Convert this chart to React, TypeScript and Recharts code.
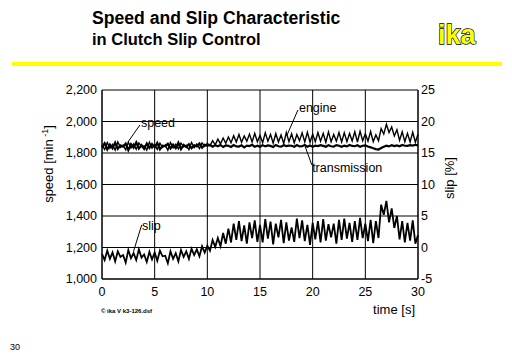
import React from "react";
import {
  ComposedChart,
  Line,
  XAxis,
  YAxis,
  CartesianGrid,
  ReferenceLine,
  ReferenceDot,
} from "recharts";

// time [s], 0.25 s steps
const time: number[] = [
  0, 0.25, 0.5, 0.75, 1, 1.25, 1.5, 1.75, 2, 2.25, 2.5, 2.75, 3, 3.25, 3.5, 3.75,
  4, 4.25, 4.5, 4.75, 5, 5.25, 5.5, 5.75, 6, 6.25, 6.5, 6.75, 7, 7.25, 7.5, 7.75,
  8, 8.25, 8.5, 8.75, 9, 9.25, 9.5, 9.75, 10, 10.25, 10.5, 10.75, 11, 11.25, 11.5, 11.75,
  12, 12.25, 12.5, 12.75, 13, 13.25, 13.5, 13.75, 14, 14.25, 14.5, 14.75, 15, 15.25, 15.5, 15.75,
  16, 16.25, 16.5, 16.75, 17, 17.25, 17.5, 17.75, 18, 18.25, 18.5, 18.75, 19, 19.25, 19.5, 19.75,
  20, 20.25, 20.5, 20.75, 21, 21.25, 21.5, 21.75, 22, 22.25, 22.5, 22.75, 23, 23.25, 23.5, 23.75,
  24, 24.25, 24.5, 24.75, 25, 25.25, 25.5, 25.75, 26, 26.25, 26.5, 26.75, 27, 27.25, 27.5, 27.75,
  28, 28.25, 28.5, 28.75, 29, 29.25, 29.5, 29.75, 30,
];

// engine speed [min-1]
const engine: number[] = [
  1848, 1822, 1866, 1830, 1855, 1818, 1870, 1836, 1850, 1820, 1868, 1832, 1858, 1824, 1864, 1840,
  1846, 1819, 1869, 1831, 1853, 1823, 1862, 1835, 1851, 1818, 1866, 1833, 1856, 1826, 1863, 1839,
  1849, 1821, 1867, 1834, 1857, 1829, 1864, 1842, 1862, 1845, 1878, 1852, 1888, 1858, 1895, 1862,
  1902, 1865, 1910, 1870, 1918, 1868, 1908, 1875, 1920, 1870, 1925, 1872, 1912, 1866, 1928, 1875,
  1918, 1862, 1924, 1870, 1915, 1860, 1930, 1872, 1922, 1865, 1918, 1878, 1928, 1870, 1932, 1868,
  1920, 1872, 1930, 1875, 1925, 1868, 1934, 1872, 1918, 1875, 1930, 1870, 1928, 1872, 1924, 1876,
  1935, 1870, 1938, 1878, 1922, 1875, 1936, 1872, 1915, 1878, 1955, 1920, 1982, 1930, 1965, 1908,
  1948, 1880, 1935, 1872, 1925, 1870, 1932, 1868, 1920,
];

// transmission speed [min-1]
const transmission: number[] = [
  1836, 1862, 1822, 1854, 1830, 1866, 1826, 1848, 1840, 1860, 1818, 1856, 1834, 1868, 1828, 1850,
  1826, 1860, 1832, 1857, 1836, 1864, 1824, 1846, 1842, 1858, 1829, 1853, 1831, 1865, 1825, 1851,
  1838, 1856, 1830, 1849, 1842, 1860, 1834, 1852, 1845, 1852, 1840, 1849, 1843, 1851, 1838, 1848,
  1846, 1838, 1850, 1842, 1841, 1849, 1836, 1847, 1844, 1852, 1839, 1846, 1840, 1850, 1842, 1848,
  1845, 1838, 1851, 1843, 1840, 1849, 1844, 1847, 1846, 1839, 1850, 1842, 1843, 1851, 1840, 1848,
  1839, 1847, 1844, 1850, 1845, 1840, 1849, 1843, 1841, 1850, 1846, 1839, 1847, 1842, 1851, 1845,
  1843, 1849, 1840, 1846, 1848, 1841, 1836, 1830, 1825, 1822, 1832, 1840, 1846, 1842, 1850, 1844,
  1848, 1843, 1851, 1846, 1845, 1850, 1847, 1852, 1848,
];

// slip [%]
const slip: number[] = [
  -1.0, -2.0, -0.5, -1.8, -0.8, -2.2, -0.6, -1.5, -1.2, -2.4, -0.4, -1.7, -0.9, -2.0, -0.3, -1.6,
  -1.1, -2.3, -0.7, -1.9, -0.8, -2.1, -0.5, -1.4, -1.3, -2.5, -0.6, -1.8, -0.9, -2.2, -0.4, -1.5,
  -0.6, -1.8, -0.2, -1.2, -0.3, -1.4, 0.2, -0.8, 0.3, -0.5, 1.2, 0.1, 1.5, 0.2, 2.3, 0.6,
  3.0, 0.8, 3.8, 1.2, 4.2, 1.0, 3.5, 0.6, 4.0, 1.5, 4.3, 0.9, 3.6, 0.8, 4.5, 1.4,
  4.1, 0.5, 3.8, 1.6, 4.4, 0.7, 4.0, 1.1, 3.2, 0.9, 4.6, 1.5, 4.3, 1.0, 3.6, 0.4,
  3.9, 1.3, 4.2, 0.8, 4.5, 1.1, 3.7, 1.6, 3.8, 0.6, 4.4, 1.2, 4.6, 1.4, 3.9, 0.9,
  4.2, 1.2, 4.7, 1.5, 3.8, 1.0, 4.4, 0.7, 4.2, 1.5, 6.8, 5.2, 7.4, 4.0, 6.2, 3.1,
  5.0, 1.3, 4.2, 0.8, 3.9, 1.1, 4.3, 0.6, 2.0,
];

const xTicks = [0, 5, 10, 15, 20, 25, 30];
const speedTicks = [1000, 1200, 1400, 1600, 1800, 2000, 2200];
const slipTicks = [-5, 0, 5, 10, 15, 20, 25];

// annotation labels: text, anchor point (on curve) and text point, in data units
const annotations = [
  { text: "speed", x0: 2.47, y0: 1870, x1: 3.6, y1: 1978, tx: 3.7, ty: 1965 },
  { text: "engine", x0: 17.57, y0: 1914, x1: 18.6, y1: 2073, tx: 18.7, ty: 2060 },
  { text: "transmission", x0: 19.29, y0: 1840, x1: 19.92, y1: 1724, tx: 19.95, ty: 1679 },
  { text: "slip", x0: 2.98, y0: 1173, x1: 3.77, y1: 1343, tx: 3.8, ty: 1311 },
];

const data = time.map((t, i) => ({
  t,
  engine: engine[i],
  transmission: transmission[i],
  slip: slip[i],
}));

const FONT = "'Liberation Sans', Arial, sans-serif";

export default function App() {
  return (
    <div
      style={{
        position: "absolute",
        left: 0,
        top: 0,
        width: 512,
        height: 354,
        background: "#fff",
        fontFamily: FONT,
      }}
    >
      <ComposedChart
        width={512}
        height={354}
        data={data}
        margin={{ top: 90, right: 54, bottom: 55, left: 62 }}
      >
        <CartesianGrid
          yAxisId="speed"
          stroke="#000"
          strokeWidth={1}
          horizontalValues={speedTicks}
          verticalValues={xTicks}
        />
        <XAxis
          dataKey="t"
          type="number"
          domain={[0, 30]}
          ticks={xTicks}
          height={20}
          axisLine={{ stroke: "#000" }}
          tickLine={false}
          tickSize={0}
          tickMargin={8}
          tick={{ fill: "#000", fontSize: 12.5, fontFamily: FONT }}
          interval={0}
        />
        <YAxis
          yAxisId="speed"
          domain={[1000, 2200]}
          ticks={speedTicks}
          width={40}
          axisLine={{ stroke: "#000" }}
          tickLine={false}
          tickSize={0}
          tickMargin={5}
          interval={0}
          tick={{ fill: "#000", fontSize: 12.5, fontFamily: FONT }}
          tickFormatter={(v: number) => v.toLocaleString("en-US")}
        />
        <YAxis
          yAxisId="slip"
          orientation="right"
          domain={[-5, 25]}
          ticks={slipTicks}
          width={40}
          axisLine={{ stroke: "#000" }}
          tickLine={false}
          tickSize={0}
          tickMargin={3}
          interval={0}
          tick={{ fill: "#000", fontSize: 12.5, fontFamily: FONT, textAnchor: "start" }}
        />
        <Line
          yAxisId="speed"
          dataKey="transmission"
          stroke="#000"
          strokeWidth={2.2}
          dot={false}
          isAnimationActive={false}
          type="linear"
        />
        <Line
          yAxisId="speed"
          dataKey="engine"
          stroke="#000"
          strokeWidth={1.4}
          dot={false}
          isAnimationActive={false}
          type="linear"
        />
        <Line
          yAxisId="slip"
          dataKey="slip"
          stroke="#000"
          strokeWidth={1.8}
          dot={false}
          isAnimationActive={false}
          type="linear"
        />
        {annotations.map((a) => (
          <ReferenceLine
            key={"l" + a.text}
            yAxisId="speed"
            segment={[
              { x: a.x0, y: a.y0 },
              { x: a.x1, y: a.y1 },
            ]}
            stroke="#000"
            strokeWidth={1}
            ifOverflow="visible"
          />
        ))}
        {annotations.map((a) => (
          <ReferenceDot
            key={"t" + a.text}
            yAxisId="speed"
            x={a.tx}
            y={a.ty}
            r={0}
            ifOverflow="visible"
            shape={(p: any) => (
              <text
                x={p.cx}
                y={p.cy}
                fontSize={12.5}
                fontFamily={FONT}
                fill="#000"
              >
                {a.text}
              </text>
            )}
          />
        ))}
      </ComposedChart>
      <svg
        width={512}
        height={354}
        style={{ position: "absolute", left: 0, top: 0, pointerEvents: "none" }}
      >
        <text x={92} y={24} fontSize={17.6} fontWeight="bold" fontFamily={FONT} fill="#000">
          Speed and Slip Characteristic
        </text>
        <text x={92} y={45} fontSize={16.5} fontWeight="bold" fontFamily={FONT} fill="#000">
          in Clutch Slip Control
        </text>
        <text
          x={438}
          y={44}
          fontSize={27}
          fontWeight="bold"
          fontFamily={FONT}
          fill="#ffff00"
          stroke="#000"
          strokeWidth={1.3}
          paintOrder="stroke"
        >
          ika
        </text>
        <rect x={12} y={62} width={490} height={4} fill="#ffff00" />
        <text
          transform="translate(53,164) rotate(-90)"
          textAnchor="middle"
          fontSize={13}
          fontFamily={FONT}
          fill="#000"
        >
          speed  [min
          <tspan fontSize={9} dy={-5}> -1</tspan>
          <tspan dy={5}>]</tspan>
        </text>
        <text
          transform="translate(454,178) rotate(-90)"
          textAnchor="middle"
          fontSize={13}
          fontFamily={FONT}
          fill="#000"
        >
          slip [%]
        </text>
        <text x={415} y={314} textAnchor="end" fontSize={13} fontFamily={FONT} fill="#000">
          time [s]
        </text>
        <text x={101} y={313} fontSize={6} fontWeight="bold" fontFamily={FONT} fill="#000">
          © ika V k3-126.dsf
        </text>
        <text x={10} y={350} fontSize={9} fontFamily={FONT} fill="#000">
          30
        </text>
      </svg>
    </div>
  );
}
